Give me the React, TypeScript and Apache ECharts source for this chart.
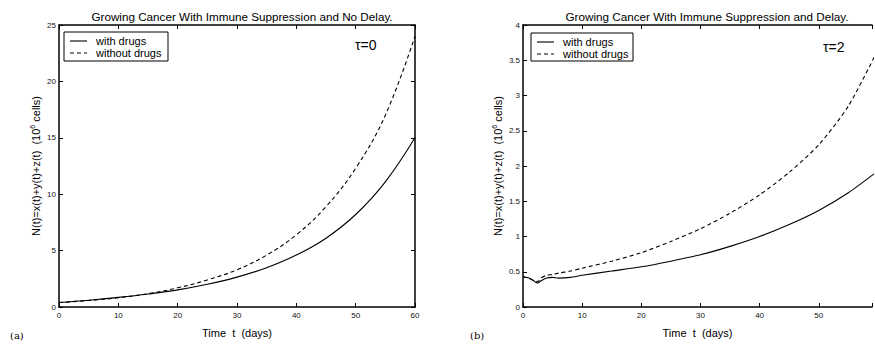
import { useEffect, useRef } from "react";
import * as echarts from "echarts";

// Panel (a): tau = 0
const tA = [0, 5, 10, 15, 20, 25, 30, 35, 40, 45, 50, 55, 60];
const withDrugsA = [0.4, 0.6, 0.85, 1.15, 1.52, 2.02, 2.65, 3.48, 4.6, 6.1, 8.2, 11.1, 15.0];
const withoutDrugsA = [0.4, 0.57, 0.82, 1.18, 1.7, 2.4, 3.3, 4.6, 6.4, 8.9, 12.3, 17.0, 24.0];

// Panel (b): tau = 2
const tB = [0, 1, 2, 2.5, 3, 4, 5, 6, 8, 10, 15, 20, 25, 30, 35, 40, 45, 50, 55, 60];
const withDrugsB = [0.43, 0.41, 0.36, 0.34, 0.37, 0.41, 0.42, 0.41, 0.42, 0.45, 0.51, 0.57, 0.65, 0.74, 0.86, 1.0, 1.17, 1.37, 1.62, 1.93];
const withoutDrugsB = [0.43, 0.41, 0.37, 0.36, 0.41, 0.45, 0.46, 0.48, 0.51, 0.55, 0.65, 0.77, 0.93, 1.11, 1.33, 1.59, 1.91, 2.3, 2.85, 3.65];

const titles = [
  "Growing Cancer With Immune Suppression and No Delay.",
  "Growing Cancer With Immune Suppression and Delay.",
];
const seriesNames = ["with drugs", "without drugs"];
const tauLabels = ["τ=0", "τ=2"];
const panelLabels = ["(a)", "(b)"];
const xName = "Time  t  (days)";
const yName = "N(t)=x(t)+y(t)+z(t)  (10{sup|6} cells)";

const FONT = "'Liberation Sans', Arial, Helvetica, sans-serif";

export default function App() {
  const ref = useRef<HTMLDivElement>(null);
  useEffect(() => {
    if (!ref.current) return;
    const chart = echarts.init(ref.current, null, { renderer: "svg" });

    const axisLine = { show: true, onZero: false, lineStyle: { color: "#000", width: 1.5 } };
    const axisTick = { show: true, inside: true, length: 4, lineStyle: { color: "#000", width: 1 } };
    const axisLabel = { fontSize: 8, color: "#111", fontFamily: FONT };
    const tickFmt = (v: number) => (v % 10 === 0 ? String(v) : "");

    const xAxisFor = (grid: number, pos: "bottom" | "top", max: number) => ({
      type: "value",
      gridIndex: grid,
      position: pos,
      min: 0,
      max,
      interval: 10,
      axisLine,
      axisTick,
      splitLine: { show: false },
      axisLabel: pos === "bottom" ? { ...axisLabel, margin: 4, formatter: tickFmt } : { show: false },
      name: pos === "bottom" ? xName : "",
      nameLocation: "middle",
      nameGap: 20,
      nameTextStyle: { fontSize: 11, color: "#000", fontFamily: FONT },
    });

    const yAxisFor = (grid: number, pos: "left" | "right", max: number, interval: number, show = true) => ({
      type: "value",
      gridIndex: grid,
      position: pos,
      min: 0,
      max,
      interval,
      show,
      axisLine,
      axisTick,
      splitLine: { show: false },
      axisLabel: pos === "left" ? { ...axisLabel, margin: 3 } : { show: false },
      name: pos === "left" ? yName : "",
      nameLocation: "middle",
      nameRotate: 90,
      nameGap: 14,
      nameTextStyle: {
        fontSize: 11,
        color: "#000",
        fontFamily: FONT,
        lineHeight: 14,
        rich: {
          sup: { fontSize: 7, lineHeight: 8, verticalAlign: "top", fontFamily: FONT, color: "#000" },
        },
      },
    });

    const lineSeries = (name: string, xi: number, yi: number, ts: number[], vs: number[], dashed: boolean, smooth: number) => ({
      type: "line",
      name,
      xAxisIndex: xi,
      yAxisIndex: yi,
      data: ts.map((t, i) => [t, vs[i]]),
      showSymbol: false,
      symbol: "none",
      smooth,
      clip: true,
      lineStyle: { color: "#000", width: 1.1, type: dashed ? [4, 3] : "solid" },
    });

    const legendBox = (x: number, y: number, w: number, h: number) => [
      { type: "rect", shape: { x, y, width: w, height: h }, style: { fill: "#fff", stroke: "#000", lineWidth: 1 }, z: 100 },
      { type: "line", shape: { x1: x + 6, y1: y + 9, x2: x + 23, y2: y + 9 }, style: { stroke: "#000", lineWidth: 1.1 }, z: 101 },
      { type: "line", shape: { x1: x + 6, y1: y + 21, x2: x + 23, y2: y + 21 }, style: { stroke: "#000", lineWidth: 1.1, lineDash: [4, 3] }, z: 101 },
      { type: "text", x: x + 32, y: y + 9, style: { text: seriesNames[0], font: `11px ${FONT}`, fill: "#000", verticalAlign: "middle" }, z: 101 },
      { type: "text", x: x + 32, y: y + 21, style: { text: seriesNames[1], font: `11px ${FONT}`, fill: "#000", verticalAlign: "middle" }, z: 101 },
    ];

    const titleStyle = { fontSize: 11.7, fontWeight: "normal", color: "#000", fontFamily: FONT };

    chart.setOption({
      animation: false,
      backgroundColor: "#fff",
      title: [
        { text: titles[0], left: 237, top: 5, textAlign: "center", textStyle: titleStyle },
        { text: titles[1], left: 702, top: 5, textAlign: "center", textStyle: titleStyle },
      ],
      grid: [
        { left: 59, top: 25, width: 356, height: 282 },
        { left: 523, top: 25, right: 0, height: 282 },
      ],
      xAxis: [xAxisFor(0, "bottom", 60), xAxisFor(0, "top", 60), xAxisFor(1, "bottom", 59), xAxisFor(1, "top", 59)],
      yAxis: [
        yAxisFor(0, "left", 25, 5),
        yAxisFor(0, "right", 25, 5),
        yAxisFor(1, "left", 4, 0.5),
        yAxisFor(1, "right", 4, 0.5, false),
      ],
      series: [
        lineSeries(seriesNames[0], 0, 0, tA, withDrugsA, false, 0.4),
        lineSeries(seriesNames[1], 0, 0, tA, withoutDrugsA, true, 0.4),
        lineSeries(seriesNames[0], 2, 2, tB, withDrugsB, false, 0.25),
        lineSeries(seriesNames[1], 2, 2, tB, withoutDrugsB, true, 0.25),
      ],
      graphic: [
        ...legendBox(64, 32, 104, 29),
        ...legendBox(531, 33, 102, 28),
        { type: "text", x: 355, y: 45, style: { text: tauLabels[0], font: `14px ${FONT}`, fill: "#000", verticalAlign: "middle" } },
        { type: "text", x: 823, y: 47, style: { text: tauLabels[1], font: `14px ${FONT}`, fill: "#000", verticalAlign: "middle" } },
        { type: "text", x: 10, y: 335, style: { text: panelLabels[0], font: "10px 'DejaVu Serif', 'Liberation Serif', serif", fill: "#000", verticalAlign: "middle" } },
        { type: "text", x: 470, y: 335, style: { text: panelLabels[1], font: "10px 'DejaVu Serif', 'Liberation Serif', serif", fill: "#000", verticalAlign: "middle" } },
      ],
    });
    return () => chart.dispose();
  }, []);
  return (
    <div
      ref={ref}
      style={{ position: "fixed", left: 0, top: 0, width: 875, height: 345, background: "#fff" }}
    />
  );
}
